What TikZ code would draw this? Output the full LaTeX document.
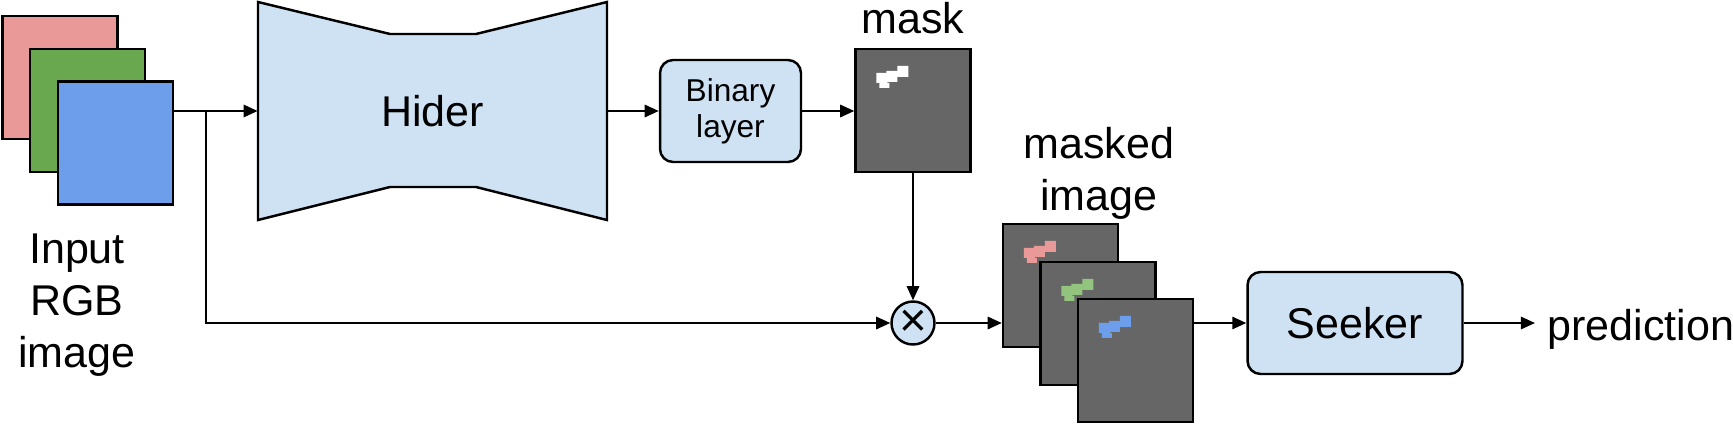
\documentclass[tikz,border=0pt]{standalone}
\usepackage{fontspec}
\setmainfont{Liberation Sans}
\usetikzlibrary{arrows.meta}
\definecolor{cred}{HTML}{EA9999}
\definecolor{cgreen}{HTML}{6AA84F}
\definecolor{cblue}{HTML}{6D9EEB}
\definecolor{clight}{HTML}{CFE2F3}
\definecolor{cgray}{HTML}{666666}
\definecolor{cgreenl}{HTML}{93C47D}
\newcommand\drawblob[2]{%
  \begin{scope}[shift={(#1.north west)}]
    \fill[#2] (43,18) rectangle (54,29) (32,23) rectangle (43,34)
              (22,25) rectangle (33,35) (25,35) rectangle (35,40);
  \end{scope}}
\begin{document}
\begin{tikzpicture}[x=0.02cm,y=-0.02cm,
  ln/.style={line width=1.2pt},
  arr/.style={ln, -{Triangle[length=8pt,width=7pt]}},
  img/.style={draw=black, line width=1.4pt, minimum width=2.3cm, minimum height=2.46cm, inner sep=0pt},
  blk/.style={draw=black, line width=1.4pt, fill=clight, rounded corners=0.26cm, inner sep=0pt, align=center},
  lbl/.style={font=\fontsize{24.5}{29.5}\selectfont, align=center, inner sep=0pt},
]
\useasboundingbox (0,0) rectangle (1733,426);

% input image stack
\node[img, fill=cred] (red) at (60,77.5) {};
\node[img, fill=cgreen] (green) at (87.5,110.5) {};
\node[img, fill=cblue] (blue) at (115.5,143) {};
\node[lbl, anchor=north] (inlbl) at (77,234) {Input\\RGB\\image};

% hider
\filldraw[fill=clight, line width=1.4pt] (258,2) -- (390,34) -- (476,34) -- (607,2) -- (607,220) -- (476,187) -- (390,187) -- (258,220) -- cycle;
\node[lbl, minimum width=6.98cm, minimum height=4.36cm] (hider) at (432.5,111) {Hider};

% binary layer
\node[blk, minimum width=2.82cm, minimum height=2.04cm, font=\fontsize{18}{20.5}\selectfont] (bin) at (730.5,111) {Binary\\layer};

% mask
\node[img, fill=cgray] (mask) at (913,110.5) {};
\drawblob{mask}{white}
\node[lbl, anchor=base] (masklbl) at (913,33) {mask};

% multiply
\node[circle, draw=black, line width=1.4pt, fill=clight, minimum size=0.86cm, inner sep=0pt, font=\fontsize{27}{27}\selectfont] (mul) at (913,323) {×};

% masked images
\node[img, fill=cgray] (m1) at (1060.5,285.5) {};
\drawblob{m1}{cred}
\node[img, fill=cgray] (m2) at (1098,323.5) {};
\drawblob{m2}{cgreenl}
\node[img, fill=cgray] (m3) at (1135.5,360.5) {};
\drawblob{m3}{cblue}
\node[lbl, anchor=north] (mlbl) at (1099,127) {masked\\image};

% seeker
\node[blk, minimum width=4.3cm, minimum height=2.04cm, font=\fontsize{24.5}{29.5}\selectfont] (seek) at (1355,323) {Seeker};
\node[lbl, anchor=west, inner xsep=0.24cm] (pred) at (1535,329) {prediction};

% connectors
\coordinate (br) at (206,111);
\draw[arr] (blue.east |- hider.west) -- (hider.west);
\draw[arr] (br) |- (mul.west);
\draw[arr] (hider.east) -- (bin.west);
\draw[arr] (bin.east) -- (mask.west |- bin.east);
\draw[arr] (mask.south) -- (mul.north);
\draw[arr] (mul.east) -- (m1.west |- mul.east);
\draw[arr] (m3.east |- seek.west) -- (seek.west);
\draw[arr] (seek.east) -- (seek.east -| pred.west);
\end{tikzpicture}
\end{document}
